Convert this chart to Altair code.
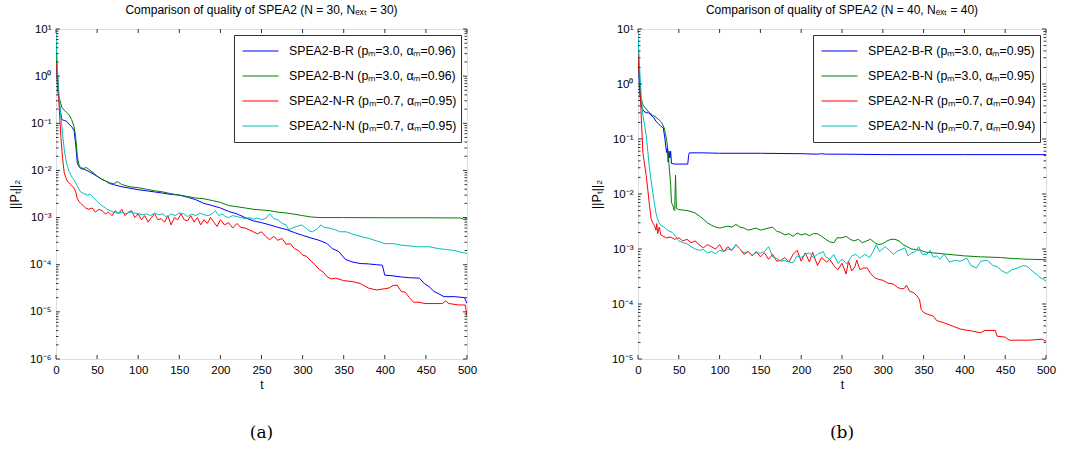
import altair as alt
import pandas as pd

# ---------------- data ----------------
T_TICKS = [0, 50, 100, 150, 200, 250, 300, 350, 400, 450, 500]
Y_EXP_A = [-6, -5, -4, -3, -2, -1, 0, 1]
Y_EXP_B = [-5, -4, -3, -2, -1, 0, 1]

TITLE_A = "Comparison of quality of SPEA2 (N = 30, Nₑₓₜ = 30)"
TITLE_B = "Comparison of quality of SPEA2 (N = 40, Nₑₓₜ = 40)"
LABELS_A = ["SPEA2-B-R (pₘ=3.0, αₘ=0.96)", "SPEA2-B-N (pₘ=3.0, αₘ=0.96)",
            "SPEA2-N-R (pₘ=0.7, αₘ=0.95)", "SPEA2-N-N (pₘ=0.7, αₘ=0.95)"]
LABELS_B = ["SPEA2-B-R (pₘ=3.0, αₘ=0.95)", "SPEA2-B-N (pₘ=3.0, αₘ=0.95)",
            "SPEA2-N-R (pₘ=0.7, αₘ=0.94)", "SPEA2-N-N (pₘ=0.7, αₘ=0.94)"]
COLORS = ["#0000ff", "#008000", "#ff0000", "#00bfbf"]

# panel (a)
a_br = [(0,3),(1,1.2),(2,0.6),(3,0.4),(5,0.2),(7,0.12),(10,0.115),(13,0.11),(16,0.095),(19,0.085),
        (22,0.07),(24,0.035),(26,0.014),(28,0.012),(30,0.011),(35,0.0105),(40,0.0095),(45,0.0085),
        (50,0.0075),(55,0.0066),(60,0.006),(65,0.0053),(70,0.005),(80,0.0045),(90,0.0042),(100,0.0039),
        (110,0.0037),(120,0.0035),(130,0.0033),(140,0.0031),(150,0.003),(160,0.0027),(170,0.0024),
        (180,0.002),(190,0.0018),(200,0.0016),(210,0.00135),(220,0.0012),(230,0.001),(240,0.00085),
        (250,0.00078),(260,0.0007),(270,0.00062),(280,0.00056),(290,0.00048),(300,0.00042),
        (310,0.00037),(320,0.00033),(330,0.00028),(336,0.00022),(344,0.00019),(352,0.00013),
        (360,0.000115),(370,0.000106),(380,0.000104),(390,0.0001),(397,0.000098),(400,0.00006),
        (410,0.000058),(420,0.000055),(430,0.000053),(442,0.000052),(448,0.00004),(454,0.000034),
        (460,0.000027),(466,0.000024),(472,0.000021),(485,0.000021),(497,0.00002),(500,0.000015)]
a_bn = [(0,5),(1,1.5),(2,0.6),(3,0.4),(5,0.3),(7,0.22),(10,0.19),(13,0.17),(16,0.15),(19,0.12),
        (22,0.085),(24,0.05),(26,0.02),(28,0.013),(30,0.0115),(33,0.011),(37,0.0115),(40,0.0105),
        (45,0.009),(50,0.0076),(55,0.0066),(60,0.006),(65,0.0055),(70,0.0052),(75,0.0058),(80,0.005),
        (90,0.0045),(100,0.0043),(110,0.004),(120,0.0037),(130,0.0035),(140,0.0032),(150,0.003),
        (160,0.0028),(170,0.0026),(180,0.0025),(190,0.0023),(200,0.0021),(210,0.0018),(220,0.0017),
        (230,0.0016),(240,0.0015),(250,0.00145),(260,0.0014),(270,0.0013),(280,0.00125),(290,0.00118),
        (300,0.0011),(310,0.00103),(320,0.001),(350,0.001),(400,0.00099),(450,0.00099),(492,0.00098),
        (496,0.00092),(500,0.00095)]
a_nr = [(0,2),(1,1.5),(2,0.8),(3,0.4),(4,0.2),(5,0.1),(6,0.05),(7,0.03),(8,0.018),(10,0.009),
        (12,0.007),(14,0.0058),(16,0.0055),(18,0.005),(20,0.0046),(22,0.0042),(24,0.0035),(26,0.0025),
        (28,0.0022),(30,0.002),(33,0.0018),(36,0.0016),(40,0.0015),(44,0.0016),(48,0.0013),(52,0.0015),
        (56,0.0014),(60,0.0012),(64,0.0013),(68,0.0011),(72,0.0014),(76,0.0012),(80,0.0015),(84,0.0011),
        (88,0.0013),(92,0.0014),(96,0.001),(100,0.0012),(104,0.0009),(108,0.0011),(112,0.0008),
        (116,0.001),(120,0.0012),(124,0.0009),(128,0.00095),(132,0.0008),(136,0.0011),(140,0.0007),
        (144,0.001),(148,0.0009),(152,0.0012),(156,0.0009),(160,0.00085),(164,0.0011),(168,0.0008),
        (172,0.001),(176,0.0007),(180,0.0009),(184,0.00075),(188,0.001),(192,0.0008),(196,0.00065),
        (200,0.0009),(205,0.0007),(210,0.00078),(215,0.0006),(220,0.00075),(225,0.00062),(230,0.0006),
        (235,0.00055),(240,0.0005),(245,0.00045),(250,0.0005),(255,0.0004),(260,0.00034),(265,0.0004),
        (270,0.00033),(275,0.00036),(280,0.00027),(285,0.00028),(290,0.00022),(295,0.0002),
        (300,0.00016),(305,0.00015),(310,0.00012),(315,0.0001),(320,0.00008),(325,0.00007),
        (330,0.000055),(335,0.00005),(340,0.000052),(350,0.000046),(360,0.000044),(370,0.00004),
        (380,0.000032),(390,0.000029),(400,0.000031),(405,0.000032),(410,0.000036),(415,0.000037),
        (420,0.000027),(425,0.000026),(430,0.00002),(435,0.000016),(440,0.000016),(450,0.000015),
        (460,0.000015),(470,0.000015),(474,0.000017),(478,0.000015),(490,0.000014),(498,0.000014),
        (500,0.000008)]
a_nn = [(0,8),(1,3),(2,1.2),(3,0.6),(4,0.35),(5,0.2),(6,0.13),(7,0.09),(8,0.06),(10,0.028),
        (12,0.017),(14,0.012),(16,0.0095),(18,0.008),(20,0.007),(22,0.0063),(25,0.005),(28,0.004),
        (30,0.0035),(34,0.0032),(38,0.003),(42,0.0031),(46,0.0026),(50,0.0022),(54,0.0019),(58,0.0017),
        (62,0.0015),(66,0.0014),(70,0.0013),(75,0.00125),(80,0.0013),(85,0.0012),(90,0.0013),
        (95,0.00125),(100,0.0012),(105,0.00115),(110,0.0012),(115,0.0011),(120,0.00125),(125,0.00115),
        (130,0.0012),(135,0.001),(140,0.0012),(145,0.0011),(150,0.00125),(155,0.0012),(160,0.00105),
        (165,0.0012),(170,0.0011),(175,0.00125),(180,0.00115),(185,0.0011),(190,0.0012),(194,0.0014),
        (198,0.0011),(202,0.0012),(206,0.00105),(210,0.001),(215,0.0011),(220,0.00105),(225,0.001),
        (230,0.00095),(235,0.001),(240,0.00092),(245,0.00098),(250,0.0009),(255,0.00095),(260,0.0012),
        (265,0.00095),(270,0.0009),(275,0.00075),(280,0.0007),(283,0.00055),(288,0.0006),(293,0.00065),
        (299,0.0007),(304,0.0006),(308,0.00052),(312,0.0005),(318,0.00058),(322,0.0007),(326,0.00062),
        (332,0.0006),(340,0.00055),(345,0.0005),(353,0.0005),(360,0.00045),(370,0.0004),(381,0.00036),
        (390,0.00032),(400,0.00028),(410,0.00028),(420,0.00026),(430,0.00025),(440,0.00024),
        (454,0.00024),(465,0.00022),(475,0.00021),(485,0.0002),(495,0.00018),(500,0.000175)]

# panel (b)
b_br = [(0,3),(1,1.5),(2,0.8),(3,0.5),(5,0.36),(7,0.32),(10,0.3),(13,0.3),(16,0.27),(19,0.25),
        (22,0.21),(25,0.19),(28,0.17),(31,0.16),(33,0.1),(35,0.057),(36,0.07),(37,0.038),(38,0.06),
        (39,0.045),(40,0.06),(41,0.036),(45,0.035),(50,0.035),(55,0.035),(61,0.035),(62,0.05),
        (63,0.056),(80,0.056),(100,0.055),(150,0.055),(200,0.054),(220,0.053),(225,0.054),(230,0.053),
        (250,0.053),(300,0.052),(400,0.052),(500,0.052)]
b_bn = [(0,4),(1,2),(2,1),(3,0.6),(6,0.42),(10,0.35),(14,0.3),(18,0.27),(22,0.25),(26,0.22),
        (29,0.2),(32,0.16),(35,0.1),(37,0.057),(38,0.034),(40,0.015),(41,0.007),(43,0.006),(44,0.0052),
        (45,0.005),(46,0.022),(47,0.0055),(50,0.0052),(55,0.0051),(60,0.005),(65,0.0048),(70,0.0045),
        (75,0.004),(80,0.0035),(85,0.003),(90,0.0027),(95,0.0025),(100,0.0024),(105,0.0025),
        (110,0.0026),(115,0.0025),(120,0.0028),(125,0.0025),(130,0.0024),(135,0.0022),(140,0.0023),
        (145,0.0024),(150,0.0022),(155,0.0023),(160,0.0024),(165,0.0025),(170,0.0021),(175,0.002),
        (180,0.0018),(185,0.0019),(190,0.0017),(195,0.00195),(200,0.0018),(205,0.0019),(210,0.00175),
        (215,0.0019),(220,0.0019),(225,0.0017),(230,0.0015),(235,0.00135),(240,0.0013),(244,0.0016),
        (250,0.0016),(255,0.0017),(260,0.0015),(265,0.0014),(270,0.0015),(275,0.0013),(280,0.0014),
        (285,0.0015),(290,0.0013),(295,0.0012),(300,0.00125),(305,0.0014),(310,0.0015),(315,0.0015),
        (320,0.0014),(325,0.0012),(330,0.0011),(335,0.001),(340,0.00098),(346,0.00095),(352,0.00088),
        (362,0.00085),(380,0.0008),(400,0.00075),(420,0.00072),(444,0.0007),(460,0.00067),
        (480,0.00065),(500,0.00064)]
b_nr = [(0,3.8),(1,2),(2,1.3),(3,0.6),(4,0.25),(5,0.12),(6,0.056),(8,0.035),(10,0.022),(12,0.012),
        (14,0.0063),(16,0.0036),(18,0.003),(20,0.0027),(22,0.0022),(23,0.0029),(24,0.0019),(26,0.0025),
        (28,0.0018),(31,0.0017),(35,0.0016),(40,0.00165),(45,0.0015),(50,0.0016),(55,0.0014),
        (60,0.0015),(65,0.0013),(70,0.0014),(75,0.0012),(80,0.00105),(85,0.0012),(90,0.0011),
        (95,0.001),(100,0.0012),(105,0.0009),(110,0.0011),(115,0.00095),(120,0.0012),(125,0.001),
        (130,0.0008),(135,0.0009),(140,0.00075),(145,0.0009),(150,0.00072),(155,0.00085),(160,0.00065),
        (165,0.0008),(170,0.0006),(175,0.00062),(180,0.0007),(185,0.00058),(190,0.0008),(195,0.00095),
        (200,0.0006),(205,0.00085),(210,0.00058),(214,0.00087),(220,0.0005),(225,0.0007),(231,0.00058),
        (235,0.00065),(240,0.0005),(245,0.00042),(250,0.00055),(255,0.00035),(258,0.0006),(262,0.0004),
        (266,0.00048),(268,0.00063),(272,0.00042),(276,0.00045),(281,0.00045),(285,0.00036),
        (290,0.0003),(295,0.00028),(300,0.00027),(306,0.00024),(313,0.00023),(318,0.0002),
        (322,0.00019),(326,0.00019),(329,0.00022),(333,0.00017),(338,0.00016),(342,0.00014),
        (345,0.00012),(347,0.00008),(350,0.00007),(355,0.000065),(362,0.00006),(366,0.00005),
        (374,0.000046),(385,0.00004),(395,0.000035),(410,0.000032),(420,0.00003),(425,0.000033),
        (438,0.000033),(440,0.000026),(450,0.000025),(455,0.000022),(480,0.000022),(495,0.000023),
        (500,0.000021)]
b_nn = [(0,8),(1,4),(2,2),(3,1),(4,0.6),(5,0.4),(6,0.27),(8,0.18),(10,0.12),(12,0.06),(14,0.03),
        (16,0.018),(18,0.011),(20,0.007),(22,0.0045),(24,0.0035),(26,0.003),(28,0.0027),(32,0.0025),
        (36,0.0022),(42,0.002),(46,0.0017),(50,0.0014),(55,0.0013),(60,0.00125),(65,0.0011),(70,0.001),
        (75,0.00095),(80,0.00098),(85,0.00085),(90,0.0009),(95,0.00082),(100,0.00095),(105,0.0009),
        (110,0.001),(115,0.00095),(120,0.0012),(125,0.001),(130,0.00085),(135,0.0009),(140,0.00078),
        (145,0.00085),(150,0.00084),(155,0.0009),(160,0.0011),(165,0.00072),(170,0.00068),(175,0.0006),
        (180,0.00062),(185,0.00058),(190,0.00056),(195,0.00075),(200,0.0007),(205,0.0008),(210,0.00085),
        (215,0.0007),(220,0.0008),(227,0.0009),(230,0.00072),(235,0.00065),(240,0.0008),(245,0.00055),
        (250,0.00065),(256,0.00054),(262,0.00075),(267,0.0008),(272,0.00068),(278,0.0008),(284,0.0007),
        (288,0.0009),(292,0.0012),(296,0.0009),(303,0.0011),(308,0.00095),(313,0.0008),(318,0.00092),
        (321,0.00096),(327,0.00105),(331,0.00075),(335,0.00085),(340,0.0009),(344,0.0011),(348,0.0008),
        (354,0.0008),(358,0.00095),(362,0.0007),(366,0.00075),(370,0.00065),(375,0.0008),(382,0.00058),
        (388,0.00062),(395,0.0006),(403,0.00068),(408,0.0005),(415,0.00045),(420,0.0006),(428,0.00062),
        (435,0.0005),(440,0.00048),(446,0.0004),(452,0.00036),(458,0.00042),(465,0.00045),(472,0.0005),
        (477,0.00048),(483,0.0004),(488,0.00035),(493,0.0003),(497,0.00028),(500,0.00026)]

# ---------------- styling ----------------
W_A, W_B, H = 411, 408, 330
FONT = "Liberation Sans"
FRAME = "#333333"
SUP = {"-": "⁻", "0": "⁰", "1": "¹", "2": "²", "3": "³", "4": "⁴",
       "5": "⁵", "6": "⁶", "7": "⁷", "8": "⁸", "9": "⁹"}


def sup(e):
    return "".join(SUP[c] for c in str(e))


def label_expr(exps):
    chain = ""
    for e in exps:
        chain += f"round(log(datum.value)/LN10) == {e} ? '{sup(e)}' : "
    return "'10' + (" + chain + "'')"


def panel(series, labels, exps, title, caption, width):
    rows = []
    for lab, pts in zip(labels, series):
        for t, v in pts:
            rows.append({"t": t, "v": v, "s": lab})
    df = pd.DataFrame(rows)
    ymin = 10.0 ** exps[0]
    yticks = [10.0 ** e for e in exps]
    minors = [m * 10.0 ** e for e in exps[:-1] for m in range(2, 10)]

    xs = alt.Scale(domain=[0, 500], nice=False, zero=False)
    ys = alt.Scale(type="log", domain=[ymin, 10], nice=False)
    x_axis = alt.Axis(values=T_TICKS, title="t", ticks=False, domain=False, grid=False,
                      labelFlush=False, labelOverlap=False,
                      labelFont=FONT, labelFontSize=11.5, labelColor="black", labelPadding=5,
                      titleFont=FONT, titleFontSize=12, titleFontWeight="normal",
                      titleColor="black", titlePadding=4)
    y_axis = alt.Axis(values=yticks, labelExpr=label_expr(exps), title="||Pₜ||₂",
                      ticks=False, domain=False, grid=False, labelFlush=False, labelOverlap=False,
                      labelFont=FONT, labelFontSize=11.5, labelColor="black", labelPadding=5,
                      titleFont=FONT, titleFontSize=12.5, titleFontWeight="normal",
                      titleColor="black", titlePadding=8)

    lines = alt.Chart(df).mark_line(strokeWidth=1, clip=True).encode(
        x=alt.X("t:Q", scale=xs, axis=x_axis),
        y=alt.Y("v:Q", scale=ys, axis=y_axis),
        color=alt.Color("s:N", scale=alt.Scale(domain=labels, range=COLORS),
                        legend=alt.Legend(title=None, orient="top-right", offset=6,
                                          fillColor="white", strokeColor=FRAME, padding=4,
                                          symbolType="stroke", symbolSize=1296, symbolStrokeWidth=1,
                                          clipHeight=24, rowPadding=1, labelFontSize=12.3,
                                          labelFont=FONT, labelColor="black", labelLimit=400,
                                          labelOffset=10, symbolOffset=4)),
    )

    xt = pd.DataFrame({"t": T_TICKS})
    yt = pd.DataFrame({"v": yticks})
    ym = pd.DataFrame({"v": minors})
    tick = dict(color=FRAME, strokeWidth=1)
    X = alt.X("t:Q", scale=xs, axis=x_axis)
    Y = alt.Y("v:Q", scale=ys, axis=y_axis)
    top_t = alt.Chart(xt).mark_rule(**tick).encode(x=X, y=alt.value(0), y2=alt.value(4))
    bot_t = alt.Chart(xt).mark_rule(**tick).encode(x=X, y=alt.value(H), y2=alt.value(H - 4))
    left_t = alt.Chart(yt).mark_rule(**tick).encode(y=Y, x=alt.value(0), x2=alt.value(4))
    right_t = alt.Chart(yt).mark_rule(**tick).encode(y=Y, x=alt.value(width), x2=alt.value(width - 4))
    left_m = alt.Chart(ym).mark_rule(**tick).encode(y=Y, x=alt.value(0), x2=alt.value(2.5))
    right_m = alt.Chart(ym).mark_rule(**tick).encode(y=Y, x=alt.value(width), x2=alt.value(width - 2.5))

    cap = alt.Chart(pd.DataFrame({"c": [caption]})).mark_text(
        font="DejaVu Serif", fontSize=17, color="black", baseline="middle", align="center"
    ).encode(text="c:N", x=alt.value(width / 2), y=alt.value(H + 74))

    return alt.layer(lines, left_m, right_m, left_t, right_t, top_t, bot_t, cap).properties(
        width=width, height=H,
        title=alt.TitleParams(title, font=FONT, fontSize=12, fontWeight="normal", color="black",
                              anchor="middle", frame="group", baseline="alphabetic", offset=-3),
    )


pa = panel([a_br, a_bn, a_nr, a_nn], LABELS_A, Y_EXP_A, TITLE_A, "(a)", W_A)
pb = panel([b_br, b_bn, b_nr, b_nn], LABELS_B, Y_EXP_B, TITLE_B, "(b)", W_B)

chart = alt.hconcat(pa, pb, spacing=111).resolve_scale(
    x="independent", y="independent", color="independent"
).resolve_legend(color="independent").properties(
    padding={"left": 7, "top": 3, "right": 0, "bottom": 0}
).configure_view(stroke=FRAME, strokeWidth=1).configure(background="white")

chart.save("out.html", embed_options={"renderer": "svg", "actions": False})
